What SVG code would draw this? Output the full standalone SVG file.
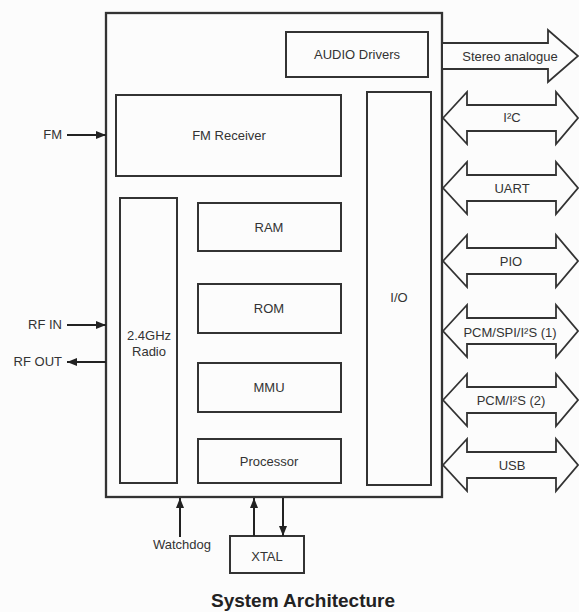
<svg xmlns="http://www.w3.org/2000/svg" width="579" height="612" viewBox="0 0 579 612">
<style>
.box{fill:none;stroke:#333;stroke-width:2}
.outer{fill:none;stroke:#333;stroke-width:2.3}
.bus{fill:#fcfcfc;stroke:#333;stroke-width:1.8;stroke-linejoin:miter}
.wire{stroke:#222;stroke-width:2;fill:none}
text{font-family:"Liberation Sans",Arial,sans-serif;font-size:13px;fill:#333;text-anchor:middle}
.r{text-anchor:end}
.title{font-size:19px;font-weight:bold;fill:#222}
</style>
<defs>
<marker id="ah" viewBox="0 0 10 8" refX="10" refY="4" markerWidth="10" markerHeight="8" markerUnits="userSpaceOnUse" orient="auto">
<path d="M0,0 L10,4 L0,8 Z" fill="#222"/>
</marker>
</defs>
<rect width="579" height="612" fill="#fcfcfc"/>
<g id="chip"><rect class="outer" x="106" y="13" width="336" height="484"/></g>
<g id="audio"><rect class="box" x="286" y="32" width="142" height="45"/><text x="357" y="59">AUDIO Drivers</text></g>
<g id="fm-receiver"><rect class="box" x="116" y="95" width="225" height="81"/><text x="229" y="140">FM Receiver</text></g>
<g id="io"><rect class="box" x="367" y="92" width="64" height="393"/><text x="399" y="302">I/O</text></g>
<g id="radio"><rect class="box" x="120" y="198" width="57" height="285"/><text x="149" y="340">2.4GHz</text><text x="149" y="356">Radio</text></g>
<g id="ram"><rect class="box" x="198" y="203" width="143" height="48"/><text x="269" y="232">RAM</text></g>
<g id="rom"><rect class="box" x="198" y="284" width="143" height="49"/><text x="269" y="313">ROM</text></g>
<g id="mmu"><rect class="box" x="198" y="363" width="143" height="49"/><text x="269" y="392">MMU</text></g>
<g id="processor"><rect class="box" x="198" y="439" width="143" height="44"/><text x="269" y="466">Processor</text></g>
<g id="xtal"><rect class="box" x="230" y="536" width="74" height="37"/><text x="267" y="561">XTAL</text></g>
<g id="connectors">
<line class="wire" x1="67" y1="135" x2="106" y2="135" marker-end="url(#ah)"/>
<line class="wire" x1="67" y1="325" x2="106" y2="325" marker-end="url(#ah)"/>
<line class="wire" x1="106" y1="362" x2="67" y2="362" marker-end="url(#ah)"/>
<line class="wire" x1="180" y1="537" x2="180" y2="498" marker-end="url(#ah)"/>
<line class="wire" x1="254" y1="536" x2="254" y2="498" marker-end="url(#ah)"/>
<line class="wire" x1="283" y1="498" x2="283" y2="536" marker-end="url(#ah)"/>
<path class="bus" d="M443,43 L548,43 L548,30 L578,56 L548,82 L548,69 L443,69"/>
<path class="bus" d="M443,118 L467,92 L467,105 L556,105 L556,92 L578,118 L556,144 L556,131 L467,131 L467,144 Z"/>
<path class="bus" d="M443,188 L467,162 L467,175 L556,175 L556,162 L578,188 L556,214 L556,201 L467,201 L467,214 Z"/>
<path class="bus" d="M443,261 L467,235 L467,248 L556,248 L556,235 L578,261 L556,287 L556,274 L467,274 L467,287 Z"/>
<path class="bus" d="M443,331 L467,305 L467,318 L556,318 L556,305 L578,331 L556,357 L556,344 L467,344 L467,357 Z"/>
<path class="bus" d="M443,400 L467,374 L467,387 L556,387 L556,374 L578,400 L556,426 L556,413 L467,413 L467,426 Z"/>
<path class="bus" d="M443,465 L467,439 L467,452 L556,452 L556,439 L578,465 L556,491 L556,478 L467,478 L467,491 Z"/>
</g>
<g id="labels">
<text class="r" x="62" y="139">FM</text>
<text class="r" x="62" y="329">RF IN</text>
<text class="r" x="62" y="366">RF OUT</text>
<text x="182" y="549">Watchdog</text>
<text x="510" y="61">Stereo analogue</text>
<text x="512" y="122">I²C</text>
<text x="512" y="193">UART</text>
<text x="511" y="266">PIO</text>
<text x="510" y="337">PCM/SPI/I²S (1)</text>
<text x="511" y="405">PCM/I²S (2)</text>
<text x="512" y="470">USB</text>
<text class="title" x="303" y="607">System Architecture</text>
</g>
</svg>
